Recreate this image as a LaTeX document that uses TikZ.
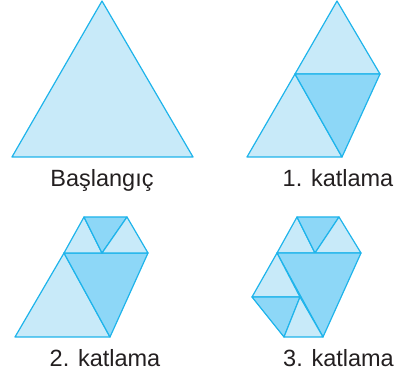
\documentclass[tikz,border=0pt]{standalone}
\usepackage{fontspec}
\setmainfont{Liberation Sans}

\definecolor{edgecyan}{RGB}{30,180,235}
\definecolor{lightface}{RGB}{200,234,249}
\definecolor{darkface}{RGB}{141,215,247}
\definecolor{labelgray}{RGB}{35,31,32}

\begin{document}
\begin{tikzpicture}[
  x=1pt, y=-1pt,
  front/.style={fill=lightface, draw=edgecyan, line width=1.2pt, line join=round},
  back/.style={fill=darkface, draw=edgecyan, line width=1.2pt, line join=round},
  caption/.style={font=\fontsize{23.5}{28}\selectfont, text=labelgray, anchor=base, inner sep=0pt}
]
\useasboundingbox (0,0) rectangle (402,379);

% ===== BASLANGIC =====
\draw[front] (12,157) -- (193,157) -- (102,1) -- cycle;
\node[caption] (l0) at (102,187) {Başlangıç};

% ===== 1. KATLAMA =====
\draw[front] (337,1) -- (295,74) -- (380,74) -- cycle;
\draw[front] (247,157) -- (342,157) -- (295,74) -- cycle;
\draw[back] (295,74) -- (380,74) -- (342,157) -- cycle;
\node[caption] (l1) at (338,187) {1. katlama};

% ===== 2. KATLAMA =====
\draw[front] (15,337) -- (110,337) -- (64,253) -- cycle;
\draw[back] (64,253) -- (148,253) -- (110,337) -- cycle;
\draw[front] (64,253) -- (102,253) -- (84,217) -- cycle;
\draw[back] (84,217) -- (127,217) -- (102,253) -- cycle;
\draw[front] (102,253) -- (148,253) -- (127,217) -- cycle;
\node[caption] (l2) at (105,367) {2. katlama};

% ===== 3. KATLAMA =====
\draw[front] (277,253) -- (315,253) -- (297,217) -- cycle;
\draw[back] (297,217) -- (339,217) -- (315,253) -- cycle;
\draw[front] (315,253) -- (361,253) -- (339,217) -- cycle;
\draw[back] (277,253) -- (361,253) -- (323,337) -- cycle;
\draw[front] (277,253) -- (252,297) -- (300,297) -- cycle;
\draw[back] (252,297) -- (300,297) -- (284,337) -- cycle;
\draw[front] (300,297) -- (284,337) -- (323,337) -- cycle;
\node[caption] (l3) at (338.5,367) {3. katlama};
\end{tikzpicture}
\end{document}
